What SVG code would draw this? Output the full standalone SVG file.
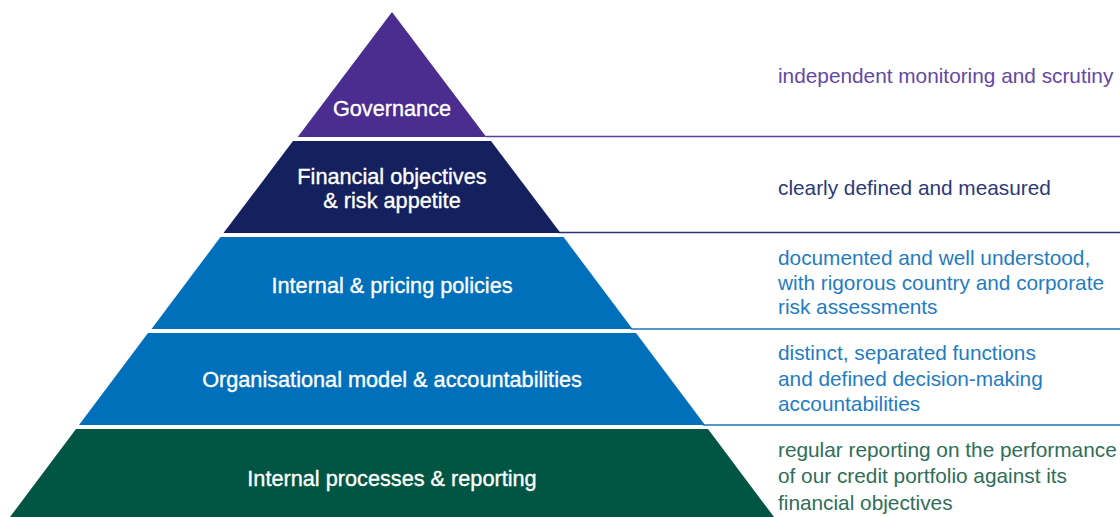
<svg xmlns="http://www.w3.org/2000/svg" width="1120" height="517" viewBox="0 0 1120 517">
<style>
.lbl{font-family:"Liberation Sans",Arial,sans-serif;font-size:21.7px;fill:#fff;stroke:#fff;stroke-width:0.35;text-anchor:middle}
.desc{font-family:"Liberation Sans",Arial,sans-serif;font-size:20.8px}
.ln{stroke-width:1.5;fill:none}
</style>
<rect width="1120" height="517" fill="#fff"/>
<g id="connectors">
<line class="ln" x1="486" y1="136.5" x2="1120" y2="136.5" stroke="#5b3f9a"/>
<line class="ln" x1="558" y1="232.5" x2="1120" y2="232.5" stroke="#2a3570"/>
<line class="ln" x1="631" y1="329" x2="1120" y2="329" stroke="#1f73b7"/>
<line class="ln" x1="703" y1="425" x2="1120" y2="425" stroke="#1f73b7"/>
</g>
<g id="governance">
<polygon points="392,12 486.3,137 297.7,137" fill="#4b2d8f"/>
<text class="lbl" x="392" y="116">Governance</text>
<text class="desc" x="778" y="83" fill="#6447a6">independent monitoring and scrutiny</text>
</g>
<g id="financial">
<polygon points="293,141 491,141 560.5,233 223.5,233" fill="#14215e"/>
<text class="lbl" x="392" y="183.5">Financial objectives</text>
<text class="lbl" x="392" y="208">&amp; risk appetite</text>
<text class="desc" x="778" y="195" fill="#2b3a78">clearly defined and measured</text>
</g>
<g id="policies">
<polygon points="220.5,237 563.5,237 632.5,329 151.5,329" fill="#0070ba"/>
<text class="lbl" x="392" y="293">Internal &amp; pricing policies</text>
<text class="desc" x="778" y="265" fill="#1f7cc3">documented and well understood,</text>
<text class="desc" x="778" y="290" fill="#1f7cc3">with rigorous country and corporate</text>
<text class="desc" x="778" y="314" fill="#1f7cc3">risk assessments</text>
</g>
<g id="organisational">
<polygon points="148,333 636,333 705,425 79,425" fill="#0070ba"/>
<text class="lbl" x="392" y="387">Organisational model &amp; accountabilities</text>
<text class="desc" x="778" y="360" fill="#1f7cc3">distinct, separated functions</text>
<text class="desc" x="778" y="386" fill="#1f7cc3">and defined decision-making</text>
<text class="desc" x="778" y="411" fill="#1f7cc3">accountabilities</text>
</g>
<g id="processes">
<polygon points="76,429 708,429 774,517 10,517" fill="#005643"/>
<text class="lbl" x="392" y="486">Internal processes &amp; reporting</text>
<text class="desc" x="778" y="457" fill="#2e6e5a">regular reporting on the performance</text>
<text class="desc" x="778" y="483" fill="#2e6e5a">of our credit portfolio against its</text>
<text class="desc" x="778" y="510" fill="#2e6e5a">financial objectives</text>
</g>
</svg>
